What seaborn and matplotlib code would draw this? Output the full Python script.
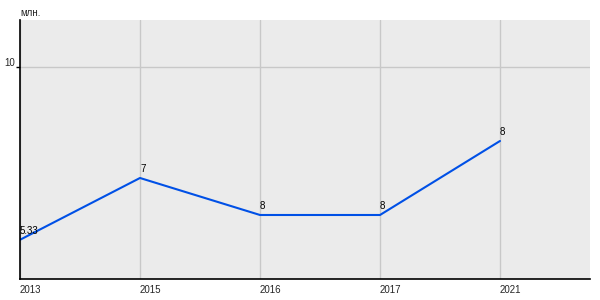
import matplotlib
matplotlib.use("Agg")
import matplotlib.pyplot as plt
import matplotlib.transforms as mtransforms
import seaborn as sns
import pandas as pd

years = ["2013", "2015", "2016", "2017", "2021"]
values = [5.33, 7, 6, 6, 8]
point_labels = ["5.33", "7", "8", "8", "8"]
y_ticks = [10]
unit_label = "млн."

sns.set_theme(style="white")
plt.rcParams['font.family'] = ['Liberation Sans', 'DejaVu Sans']

df = pd.DataFrame({"year": years, "value": values})

fig = plt.figure(figsize=(6, 3), dpi=100)
ax = fig.add_axes([20/600, 21/300, 570/600, 259/300])
ax.set_facecolor("#ebebeb")

sns.lineplot(data=df, x="year", y="value", ax=ax, color="#0050e6",
             linewidth=1.5, sort=False)

ax.set_xlim(0, 4.75)
ax.set_ylim(4.27, 11.27)
ax.set_yticks(y_ticks)
ax.set_yticklabels([str(t) for t in y_ticks])
ax.set_xticks(range(len(years)))
ax.set_xticklabels(years)

ax.grid(True, axis="both", color="#c8c8c8", linewidth=1)
ax.set_axisbelow(True)

for s in ["top", "right"]:
    ax.spines[s].set_visible(False)
for s in ["left", "bottom"]:
    ax.spines[s].set_color("black")
    ax.spines[s].set_linewidth(1.2)

ax.tick_params(axis="y", length=3, width=1, color="black", pad=2,
               labelsize=7, left=True)
ax.tick_params(axis="x", length=0, pad=4, labelsize=7)
shift = mtransforms.ScaledTranslation(2/100, 4/100, fig.dpi_scale_trans)
for lab in ax.get_yticklabels():
    lab.set_verticalalignment("center")
    lab.set_transform(lab.get_transform() + shift)
for lab in ax.get_xticklabels():
    lab.set_horizontalalignment("left")

ax.set_xlabel("")
ax.set_ylabel("")

for i, (v, t) in enumerate(zip(values, point_labels)):
    ax.annotate(t, (i, v), xytext=(0, 3), textcoords="offset points",
                ha="left", va="bottom", fontsize=7, color="black")

fig.text(20/600, 1 - 13/300, unit_label, fontsize=7, ha="left", va="center")

fig.savefig("out.png", dpi=100)
